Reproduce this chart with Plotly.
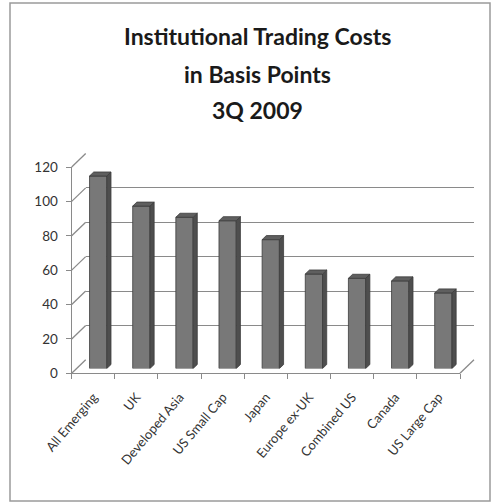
import plotly.graph_objects as go

# Institutional trading costs, 3Q 2009 (basis points)
categories = ["All Emerging", "UK", "Developed Asia", "US Small Cap", "Japan",
              "Europe ex-UK", "Combined US", "Canada", "US Large Cap"]
costs_bp = [112, 94.5, 88, 86, 75, 55, 52.5, 51, 44]
y_ticks = [0, 20, 40, 60, 80, 100, 120]
title_lines = ["Institutional Trading Costs", "in Basis Points", "3Q 2009"]

W, H = 491, 503
FONT = "Lato"

# pseudo-3D frame geometry (pixels)
FX0, FX1 = 71.7, 460.0          # front floor edge
FY0, FY1 = 373.3, 167.0         # front plane: value 0 and value 120
DEPTH_DX, DEPTH_DY = 14.0, 13.5  # offset from front plane to back wall
BAR_FRONT = 0.35                 # depth fraction of the bar front face
BAR_DEPTH = 0.30                 # depth fraction occupied by a bar
BAR_WIDTH = 0.4
YMAX = 120

px_per_cat = (FX1 - FX0) / len(categories)
px_per_unit = (FY0 - FY1) / YMAX


def px(x):
    return x / W


def py(y):
    return 1 - y / H


def dom_x(shift):
    return [px(FX0 + shift), px(FX1 + shift)]


def dom_y(shift):
    return [py(FY0 - shift), py(FY1 - shift)]


n = len(categories)
idx = list(range(n))

# offsets of the bar's back edge, in data units of the bar plane
ddx = BAR_DEPTH * DEPTH_DX / px_per_cat
ddy = BAR_DEPTH * DEPTH_DY / px_per_unit

top_x, top_y, side_x, side_y = [], [], [], []
for i, v in zip(idx, costs_bp):
    l, r = i - BAR_WIDTH / 2, i + BAR_WIDTH / 2
    top_x += [l, r, r + ddx, l + ddx, l, None]
    top_y += [v, v, v + ddy, v + ddy, v, None]
    side_x += [r, r + ddx, r + ddx, r, r, None]
    side_y += [0, ddy, v + ddy, v, 0, None]

fig = go.Figure()

# empty traces so the back-wall and front-plane subplots get drawn
for xa, ya in [("x", "y"), ("x2", "y2")]:
    fig.add_trace(go.Scatter(x=[], y=[], xaxis=xa, yaxis=ya, mode="lines",
                             hoverinfo="skip", showlegend=False))

# bars: front faces, right side faces, top faces
fig.add_trace(go.Bar(
    x=idx, y=costs_bp, width=BAR_WIDTH, xaxis="x3", yaxis="y3",
    marker=dict(color="#787878", line=dict(color="#3c3c3c", width=0.8)),
    hoverinfo="skip", showlegend=False))
fig.add_trace(go.Scatter(
    x=side_x, y=side_y, xaxis="x3", yaxis="y3", mode="lines", fill="toself",
    fillcolor="#4e4e4e", line=dict(color="#3c3c3c", width=0.8),
    hoverinfo="skip", showlegend=False))
fig.add_trace(go.Scatter(
    x=top_x, y=top_y, xaxis="x3", yaxis="y3", mode="lines", fill="toself",
    fillcolor="#5f5f5f", line=dict(color="#3c3c3c", width=0.8),
    hoverinfo="skip", showlegend=False))

grid_color = "#8a8a8a"
shapes = []
# left wall diagonals joining front ticks to back gridlines
for v in y_ticks:
    yf = FY0 - v * px_per_unit
    shapes.append(dict(type="line", xref="paper", yref="paper",
                       x0=px(FX0), y0=py(yf),
                       x1=px(FX0 + DEPTH_DX), y1=py(yf - DEPTH_DY),
                       line=dict(color=grid_color, width=1.3), layer="below"))
# right edge of the floor
shapes.append(dict(type="line", xref="paper", yref="paper",
                   x0=px(FX1), y0=py(FY0), x1=px(FX1 + DEPTH_DX), y1=py(FY0 - DEPTH_DY),
                   line=dict(color=grid_color, width=1.3), layer="below"))
# chart area border
shapes.append(dict(type="rect", xref="paper", yref="paper",
                   x0=px(10), y0=py(501), x1=px(490), y1=py(3),
                   line=dict(color="#9a9a9a", width=1.5), layer="below"))

annotations = []
for text, yc in zip(title_lines, [36, 74, 110]):
    annotations.append(dict(text=f"<b>{text}</b>", x=px(257), y=py(yc),
                            xref="paper", yref="paper", showarrow=False,
                            xanchor="center", yanchor="middle",
                            font=dict(family=FONT, size=23, color="#1a1a1a")))

bounds = [i - 0.5 for i in range(n + 1)]
hidden = dict(showgrid=False, zeroline=False, showline=False,
              showticklabels=False, ticks="", fixedrange=True, automargin=False)

fig.update_layout(
    width=W, height=H,
    margin=dict(l=0, r=0, t=0, b=0, autoexpand=False),
    paper_bgcolor="white", plot_bgcolor="rgba(0,0,0,0)",
    showlegend=False,
    shapes=shapes, annotations=annotations,
    # back wall: horizontal gridlines
    xaxis=dict(domain=dom_x(DEPTH_DX), range=[-0.5, n - 0.5], anchor="y", **hidden),
    yaxis=dict(domain=dom_y(DEPTH_DY), range=[0, YMAX], anchor="x",
               showgrid=True, gridcolor=grid_color, gridwidth=1.4,
               tickvals=y_ticks, zeroline=False, showline=False,
               showticklabels=False, ticks="", fixedrange=True, automargin=False),
    # front plane: value axis and category labels
    xaxis2=dict(domain=dom_x(0), range=[-0.5, n - 0.5], anchor="y2",
                showgrid=False, zeroline=False, showline=True,
                linecolor=grid_color, linewidth=1.3,
                tickvals=idx, ticktext=categories, ticks="", tickangle=-50,
                ticklabelstandoff=10,
                tickfont=dict(family=FONT, size=13, color="#333333"),
                minor=dict(tickvals=bounds, ticks="outside", ticklen=5,
                           tickcolor=grid_color, tickwidth=1.3),
                fixedrange=True, automargin=False),
    yaxis2=dict(domain=dom_y(0), range=[0, YMAX], anchor="x2",
                showgrid=False, zeroline=False, showline=True,
                linecolor=grid_color, linewidth=1.3,
                tickvals=y_ticks, ticks="outside", ticklen=5,
                tickcolor=grid_color, tickwidth=1.3, ticklabelstandoff=5,
                tickfont=dict(family=FONT, size=13.5, color="#333333"),
                fixedrange=True, automargin=False),
    # plane holding the bars
    xaxis3=dict(domain=dom_x(BAR_FRONT * DEPTH_DX), range=[-0.5, n - 0.5],
                anchor="y3", **hidden),
    yaxis3=dict(domain=dom_y(BAR_FRONT * DEPTH_DY), range=[0, YMAX],
                anchor="x3", **hidden),
)

fig.write_html("out.html")
